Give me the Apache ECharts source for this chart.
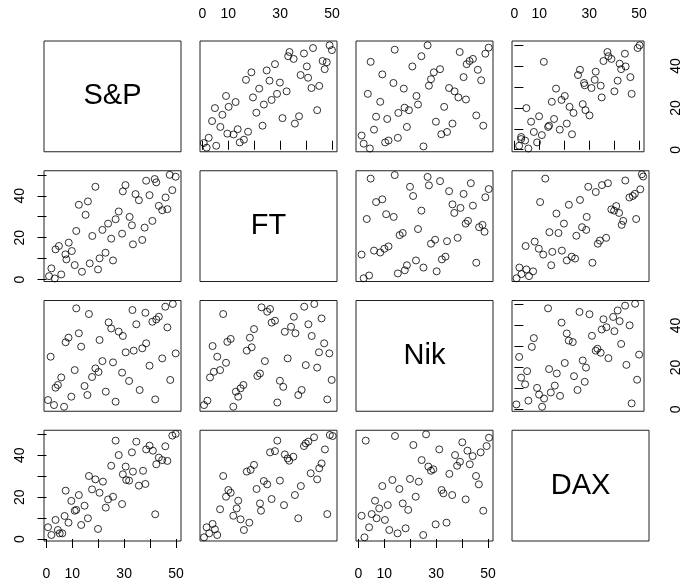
<!DOCTYPE html>
<html>
<head>
<meta charset="utf-8">
<script src="https://cdn.jsdelivr.net/npm/echarts@6/dist/echarts.min.js"></script>
<style>
html,body{margin:0;padding:0;background:#fff;}
#c{width:683px;height:585px;}
</style>
</head>
<body>
<div id="c"></div>
<script>
// Variable names (diagonal labels)
const varNames = ['S&P', 'FT', 'Nik', 'DAX'];
// Axis ticks and labels
const tickValues = [0, 10, 20, 30, 40, 50];
const xTickLabels = [0, 10, 30, 50];
const yTickLabels = [0, 20, 40];

// Pair data: [first variable, second variable]
const spFt = [[1,1.6],[1.9,5.3],[3.2,0.5],[5.7,2.4],[3.5,14.4],[4.8,16],[7.3,12],[8.6,17.6],[9.8,13.6],[7.7,9.6],[10.9,6.9],[11.5,23.2],[12.5,35.7],[15.1,30.9],[16,37.3],[13.7,3.7],[16.7,7.7],[17.7,20.8],[18.9,44.3],[19.9,4.8],[20.5,10.1],[22.8,12.8],[25.7,9.1],[21.6,23.7],[23.8,26.7],[25,19.5],[26.7,28.8],[27.9,32.5],[29.2,21.9],[29.5,42.1],[30.5,45.1],[32.1,29.9],[33,25.9],[33.4,16.8],[34.4,40.8],[35.7,37.9],[37,18.9],[37.9,24.8],[38.5,47.2],[39.8,40.3],[40.9,28],[41.8,48],[42.4,46.4],[43.4,35.2],[44.7,33.1],[46,39.2],[46.7,33.6],[48.6,42.7],[47.6,50],[49.9,49.1]];
const spNik = [[0.6,4.4],[2.9,2.0],[6.8,1.2],[1.6,25.1],[3.5,10.3],[4.4,11.6],[5.7,15.2],[9.6,6.0],[10.9,18.7],[11.5,48.2],[7.4,32],[8.5,34.2],[12.5,36.3],[13.4,29.9],[16.4,45.5],[14.7,11.1],[15.8,6.8],[17.6,15.4],[18.9,19.5],[20.1,17.8],[20.5,33.1],[21.6,23],[22.9,8.4],[24.0,41.5],[25.0,38.6],[25.7,22.4],[26.7,3.6],[27.9,37.1],[29.5,35],[29.2,17.5],[30.6,27.2],[31.9,13.5],[33.2,47.4],[33.7,28],[34.7,40.6],[36.0,9.2],[37.0,29.1],[38.2,46.1],[38.5,31.5],[39.8,20.8],[40.9,41.8],[42.0,4.7],[42.4,42.9],[43.4,44.2],[44.7,24.3],[45.9,49],[46.7,39.1],[47.8,14],[48.8,50.3],[49.9,26.7]];
const spDax = [[0.6,5.6],[1.9,1.9],[3.5,9.1],[4.4,4.3],[5.1,2.7],[6.1,2.7],[7.0,11],[7.4,23.1],[8.5,7.8],[9.6,18.2],[10.9,13.5],[11.5,13.9],[12.5,21],[13.4,6.7],[14.7,15.9],[16,9.9],[16.4,30.1],[17.6,23.7],[18.9,28.5],[19.9,4.8],[20.5,22.1],[21.8,27.4],[22.9,15],[23.8,18.9],[25.0,35],[25.7,20.2],[26.7,47],[27.9,40.1],[29.2,16.7],[29.5,30.9],[30.6,34.6],[30.8,28.2],[31.9,27.9],[33.0,41.4],[33.4,32.2],[34.7,46.5],[35.7,25.5],[37.3,32.6],[38.2,26.3],[38.5,42.8],[39.8,44.6],[41.1,42.2],[42.0,11.8],[42.4,35.7],[43.4,38.9],[44.7,37.7],[45.9,44.3],[46.7,37.3],[48.6,49.4],[49.9,50.2]];
const ftNik = [[0.6,2.0],[1.9,4.1],[2.9,15.2],[4.4,17.9],[6.8,18.7],[5.7,25.1],[3.9,30.2],[8.0,45.5],[9.1,22.2],[9.6,32.2],[10.9,33.6],[11.9,1.2],[12.9,8.4],[13.8,6.0],[14.7,10],[15.8,11.6],[17.1,28],[18.3,34.2],[19.0,29.6],[19.9,38.3],[21.2,15.9],[22.2,17.1],[22.8,48.7],[24.1,23],[25.0,46.6],[26.1,47.9],[26.7,41.4],[28.0,42.3],[28.9,3.2],[29.9,13.6],[31.2,10.7],[31.8,37.0],[32.9,24.3],[34.2,39.4],[35.3,44.2],[35.9,36.3],[37.0,6.8],[38.3,9.2],[39.3,49],[39.9,21.1],[40.9,40.6],[42.2,35],[43.2,50.3],[44.3,19.9],[45.0,27.2],[46.0,43.4],[47.0,31.5],[48.2,4.7],[49.0,26.7],[49.9,14.0]];
const ftDax = [[0.6,0.8],[1.6,5.6],[2.6,2.7],[3.9,7.2],[4.8,4.6],[5.7,1.9],[6.8,14.2],[8.0,30.1],[9.1,20.2],[10.0,23.4],[10.9,22.1],[11.9,11.1],[13.2,14.6],[13.8,18.3],[14.7,9.4],[16.0,4.3],[18.1,7.8],[17.1,32.2],[18.6,33.0],[19.9,35.4],[20.9,23.9],[22.2,17],[22.6,13.5],[23.7,27.7],[25.0,26.1],[26.1,41.4],[26.7,19.1],[28.0,42],[28.9,47],[29.9,27.9],[31.5,16.2],[31.8,40.4],[32.9,38.5],[33.5,37.4],[35.1,39.3],[35.7,21],[37.0,9.9],[38.0,25.3],[39.2,44.4],[39.9,45.7],[40.9,46.5],[41.8,31.4],[43.1,48.6],[44.3,28.5],[45.1,33.8],[46.0,36.1],[47.3,42.8],[48.2,11.9],[49.2,49.7],[50.3,49.2]];
const nikDax = [[1.2,11.1],[2.3,0.8],[2.8,47],[4.1,5.6],[5.1,11.9],[6.4,18.3],[7.0,9.9],[8.0,14.6],[9.2,25.3],[10.2,9.1],[11.3,16.2],[11.9,4.3],[13.1,28.2],[14.1,49.2],[15.1,2.7],[15.8,23.9],[17.1,17],[18.2,5.1],[19.2,13.9],[19.9,28.7],[21.2,44.9],[22.1,20.2],[23.3,27.4],[24.4,37.7],[25.0,1.9],[26.1,50],[27.0,34.6],[28.0,32.6],[28.9,33.3],[29.8,7.0],[31.2,42.8],[32.1,23.4],[32.8,21.8],[34.0,7.8],[35.1,31.1],[36.2,21],[37.3,40.1],[38.1,35],[39.2,36.9],[40.1,46.2],[41.4,18.9],[42.1,42.2],[43.0,35.7],[44.1,39.6],[45.4,30.1],[46.5,26.1],[47.2,41.4],[48.2,13.5],[49.5,44.4],[50.4,48.4]];

const pairData = {'0-1': spFt, '0-2': spNik, '0-3': spDax, '1-2': ftNik, '1-3': ftDax, '2-3': nikDax};

// Layout
const colLeft = [44, 200, 356, 512];
const rowTop = [41, 170.75, 300.5, 430.25];
const panelW = 137, panelH = 110.75;
const axMin = -0.96, axMax = 51.96;
const FONT = "'Liberation Sans', Arial, sans-serif";

const grids = [], xAxes = [], yAxes = [], series = [], graphics = [];
let g = 0;
for (let i = 0; i < 4; i++) {
  for (let j = 0; j < 4; j++) {
    grids.push({left: colLeft[j], top: rowTop[i], width: panelW, height: panelH,
      show: true, borderColor: '#222', borderWidth: 1, backgroundColor: 'transparent', containLabel: false});
    const showTop = (i === 0 && j % 2 === 1);
    const showBottom = (i === 3 && j % 2 === 0);
    const showLeft = (j === 0 && i % 2 === 1);
    const showRight = (j === 3 && i % 2 === 0);
    const showX = showTop || showBottom;
    const showY = showLeft || showRight;
    xAxes.push({
      gridIndex: g, type: 'value', min: axMin, max: axMax,
      position: showTop ? 'top' : 'bottom',
      splitLine: {show: false},
      axisLine: {show: false},
      axisTick: {show: showX, length: 9, customValues: tickValues, lineStyle: {color: '#000', width: 1}},
      axisLabel: {show: showX, customValues: xTickLabels, color: '#000', fontSize: 14, fontFamily: FONT,
        margin: showTop ? 20 : 26, hideOverlap: false}
    });
    yAxes.push({
      gridIndex: g, type: 'value', min: axMin, max: axMax,
      position: showRight ? 'right' : 'left',
      splitLine: {show: false},
      axisLine: {show: false},
      axisTick: {show: showY, length: 9, customValues: tickValues, lineStyle: {color: '#000', width: 1}},
      axisLabel: {show: showY, customValues: yTickLabels, rotate: 90, color: '#000', fontSize: 14, fontFamily: FONT,
        margin: showRight ? 25 : 17, hideOverlap: false}
    });
    if (i === j) {
      graphics.push({type: 'text', x: colLeft[j] + panelW / 2, y: rowTop[i] + panelH / 2,
        style: {text: varNames[i], font: '29px ' + FONT, fill: '#000',
          textAlign: 'center', textVerticalAlign: 'middle', align: 'center', verticalAlign: 'middle'}});
    } else {
      let data;
      if (j < i) {
        data = pairData[j + '-' + i];
      } else {
        data = pairData[i + '-' + j].map(p => [p[1], p[0]]);
      }
      series.push({type: 'scatter', xAxisIndex: g, yAxisIndex: g, data: data,
        symbol: 'circle', symbolSize: 7, silent: true,
        itemStyle: {color: 'rgba(0,0,0,0)', borderColor: '#000', borderWidth: 1}});
    }
    g++;
  }
}

const chart = echarts.init(document.getElementById('c'), null, {renderer: 'canvas'});
chart.setOption({
  animation: false,
  backgroundColor: '#fff',
  grid: grids, xAxis: xAxes, yAxis: yAxes, series: series, graphic: graphics
});
</script>
</body>
</html>
